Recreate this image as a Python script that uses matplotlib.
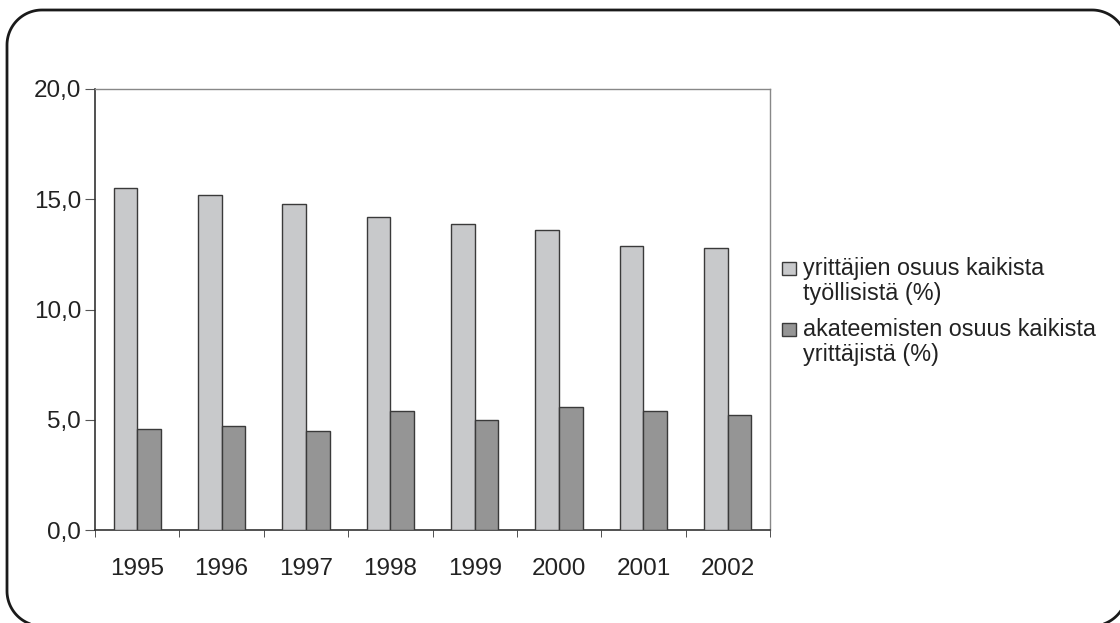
import matplotlib
matplotlib.use("Agg")
import matplotlib.pyplot as plt
import numpy as np
from matplotlib.patches import PathPatch, Rectangle
from matplotlib.path import Path

years = ["1995", "1996", "1997", "1998", "1999", "2000", "2001", "2002"]
yrittajat = [15.5, 15.2, 14.8, 14.2, 13.9, 13.6, 12.9, 12.8]
akateemiset = [4.6, 4.7, 4.5, 5.4, 5.0, 5.6, 5.4, 5.2]
labels = ["yrittäjien osuus kaikista\ntyöllisistä (%)",
          "akateemisten osuus kaikista\nyrittäjistä (%)"]
yticks = [0, 5, 10, 15, 20]
ytick_labels = ["0,0", "5,0", "10,0", "15,0", "20,0"]

plt.rcParams['font.family'] = ['Liberation Sans', 'DejaVu Sans']

W, H = 1120, 623
fig = plt.figure(figsize=(W / 100, H / 100), dpi=100)

ax = fig.add_axes([95 / W, (H - 530) / H, (770 - 95) / W, (530 - 89) / H])
ax.set_facecolor("white")
x = np.arange(len(years))
bw = 0.28
light = "#c8c9cb"
dark = "#959595"
ax.bar(x - bw / 2, yrittajat, bw, color=light, edgecolor="#3a3a3a", linewidth=1, zorder=3)
ax.bar(x + bw / 2, akateemiset, bw, color=dark, edgecolor="#3a3a3a", linewidth=1, zorder=3)

ax.set_xlim(-0.5, len(years) - 0.5)
ax.set_ylim(0, 20)
ax.set_yticks(yticks)
ax.set_yticklabels(ytick_labels, fontsize=17.5, color="#222222")
ax.set_xticks(x)
ax.set_xticklabels(years, fontsize=17.5, color="#222222")
ax.tick_params(axis="x", length=0, pad=20)
ax.set_xticks(np.arange(len(years) + 1) - 0.5, minor=True)
ax.tick_params(axis="x", which="minor", length=5, direction="out", color="#333333")
ax.tick_params(axis="y", length=7, direction="out", color="#555555", pad=3)

for s in ["top", "right"]:
    ax.spines[s].set_color("#888888")
    ax.spines[s].set_linewidth(1)
for s in ["left", "bottom"]:
    ax.spines[s].set_color("#333333")
    ax.spines[s].set_linewidth(1.2)

# legend (swatch aligned with first text line, as in the reference)
colors = [light, dark]
tops = [257, 318]
for lab, col, top in zip(labels, colors, tops):
    fig.patches.append(Rectangle((782, H - (top + 18)), 14, 13, transform=None,
                                 facecolor=col, edgecolor="#3a3a3a", linewidth=1))
    fig.text(803 / W, 1 - top / H, lab, ha="left", va="top", fontsize=16.8,
             color="#222222", linespacing=1.1)

# rounded frame (extends past the right and bottom edges, as in the reference)
r = 35
fx0, fx1 = 7, 1127
fy0, fy1 = -3, 613   # display coords (origin bottom-left)
pts = []
corners = [((fx1 - r, fy1 - r), 0, 90),
           ((fx0 + r, fy1 - r), 90, 180),
           ((fx0 + r, fy0 + r), 180, 270),
           ((fx1 - r, fy0 + r), 270, 360)]
for (cx, cy), a0, a1 in corners:
    t = np.radians(np.linspace(a0, a1, 30))
    pts.extend(zip(cx + r * np.cos(t), cy + r * np.sin(t)))
pts.append(pts[0])
frame = PathPatch(Path(np.array(pts)), transform=None, facecolor="none",
                  edgecolor="#1a1a1a", linewidth=2, zorder=5)
fig.patches.append(frame)

fig.savefig("out.png", dpi=100)
